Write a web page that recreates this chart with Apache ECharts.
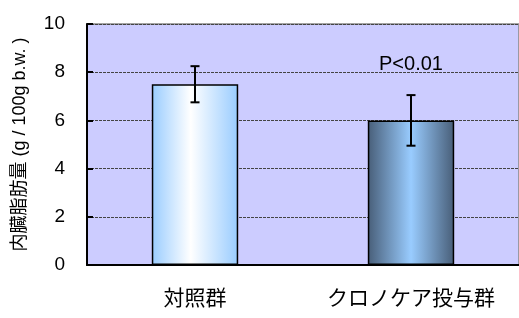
<!DOCTYPE html>
<html>
<head>
<meta charset="utf-8">
<script src="https://cdn.jsdelivr.net/npm/echarts@6/dist/echarts.min.js"></script>
<style>
  html, body { margin: 0; padding: 0; background: #fff; }
  #chart { width: 519px; height: 318px; }
</style>
</head>
<body>
<div id="chart"></div>
<script>
var categories = ['対照群', 'クロノケア投与群'];
var means = [7.5, 6.0];
var errors = [0.75, 1.05];
var yTicks = [0, 2, 4, 6, 8, 10];
var pLabel = 'P<0.01';
var pLabelY = 8.34;

var fontFam = 'Liberation Sans, "Noto Sans CJK JP", sans-serif';

var gradLight = new echarts.graphic.LinearGradient(0, 0, 1, 0, [
    { offset: 0, color: '#99ccff' },
    { offset: 0.45, color: '#ffffff' },
    { offset: 1, color: '#99ccff' }
]);
var gradDark = new echarts.graphic.LinearGradient(0, 0, 1, 0, [
    { offset: 0, color: '#485e78' },
    { offset: 0.5, color: '#99ccff' },
    { offset: 1, color: '#485e78' }
]);

var myChart = echarts.init(document.getElementById('chart'));
myChart.setOption({
    animation: false,
    grid: {
        left: 87, right: -2, top: 24, bottom: 53,
        show: true,
        backgroundColor: '#ccccff',
        borderColor: '#888888',
        borderWidth: 1.5
    },
    xAxis: {
        type: 'category',
        data: categories,
        axisLine: { lineStyle: { color: '#000', width: 2 } },
        axisTick: { inside: true, length: 9, lineStyle: { color: '#000', width: 2 } },
        axisLabel: { interval: 0, color: '#000', fontSize: 21, margin: 24, fontFamily: fontFam }
    },
    yAxis: {
        type: 'value',
        min: yTicks[0],
        max: yTicks[yTicks.length - 1],
        interval: 2,
        name: '内臓脂肪量 (g / 100g b.w. )',
        nameLocation: 'middle',
        nameGap: 58,
        nameTextStyle: { color: '#000', fontSize: 18, fontFamily: fontFam },
        axisLine: { show: true, lineStyle: { color: '#000', width: 2 } },
        axisTick: { show: true, inside: true, length: 6, lineStyle: { color: '#000', width: 2 } },
        axisLabel: { color: '#000', fontSize: 19, margin: 22, fontFamily: fontFam },
        splitLine: { show: true, lineStyle: { color: '#444', type: [3, 1], width: 1 } }
    },
    series: [
        {
            type: 'bar',
            barWidth: '40%',
            data: means.map(function (v, i) {
                return {
                    value: v,
                    itemStyle: {
                        color: i === 0 ? gradLight : gradDark,
                        borderColor: '#000',
                        borderWidth: 1.5
                    }
                };
            }),
            markPoint: {
                symbol: 'circle',
                symbolSize: 1,
                itemStyle: { color: 'rgba(0,0,0,0)' },
                data: [{
                    coord: [1, pLabelY],
                    label: {
                        show: true,
                        formatter: pLabel,
                        color: '#000',
                        fontSize: 20,
                        fontFamily: fontFam,
                        position: 'inside'
                    }
                }]
            }
        },
        {
            type: 'custom',
            data: means.map(function (v, i) { return [i, v - errors[i], v + errors[i]]; }),
            renderItem: function (params, api) {
                var lo = api.coord([api.value(0), api.value(1)]);
                var hi = api.coord([api.value(0), api.value(2)]);
                var hw = 4.5;
                var st = { stroke: '#000', lineWidth: 2 };
                return {
                    type: 'group',
                    children: [
                        { type: 'line', shape: { x1: hi[0], y1: hi[1], x2: lo[0], y2: lo[1] }, style: st },
                        { type: 'line', shape: { x1: hi[0] - hw, y1: hi[1], x2: hi[0] + hw, y2: hi[1] }, style: st },
                        { type: 'line', shape: { x1: lo[0] - hw, y1: lo[1], x2: lo[0] + hw, y2: lo[1] }, style: st }
                    ]
                };
            },
            z: 5
        }
    ]
});
</script>
</body>
</html>
